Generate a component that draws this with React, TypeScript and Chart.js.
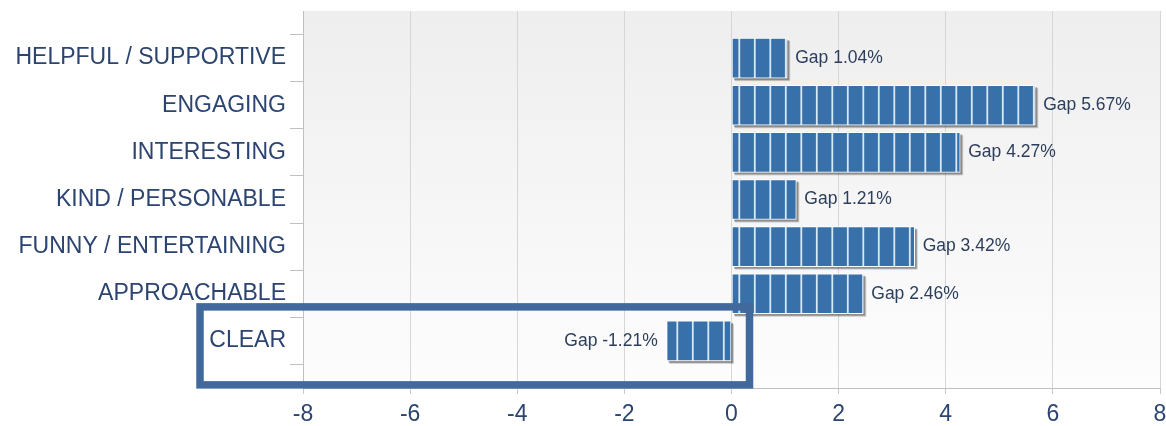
import React, { useEffect, useRef } from "react";
import { Chart, registerables } from "chart.js";

Chart.register(...registerables);

const categories = [
  "HELPFUL / SUPPORTIVE",
  "ENGAGING",
  "INTERESTING",
  "KIND / PERSONABLE",
  "FUNNY / ENTERTAINING",
  "APPROACHABLE",
  "CLEAR",
];
const gapValues = [1.04, 5.67, 4.27, 1.21, 3.42, 2.46, -1.21];
const xTicks = [-8, -6, -4, -2, 0, 2, 4, 6, 8];
const highlightCategory = "CLEAR";

const FONT = "'Liberation Sans', Arial, sans-serif";
const TEXT_COLOR = "#2b4470";
const BAR_COLOR = "#3870aa";

function makeStripePattern(): CanvasPattern | string {
  const c = document.createElement("canvas");
  c.width = 31;
  c.height = 4;
  const g = c.getContext("2d");
  if (!g) return BAR_COLOR;
  g.fillStyle = BAR_COLOR;
  g.fillRect(0, 0, 31, 4);
  g.fillStyle = "#d6e9f7";
  for (const cx of [10.8, 26.3]) {
    g.fillRect(cx - 0.9, 0, 1.8, 4);
  }
  const p = g.createPattern(c, "repeat");
  return p || BAR_COLOR;
}

function zeroPadding(scale: any) {
  scale.paddingTop = 0;
  scale.paddingBottom = 0;
  scale.paddingLeft = 0;
  scale.paddingRight = 0;
}

export default function App() {
  const ref = useRef<HTMLCanvasElement | null>(null);

  useEffect(() => {
    if (!ref.current) return;
    const labels = ["", ...categories, ""];
    const data = [null, ...gapValues, null];
    const pattern = makeStripePattern();

    const bgPlugin = {
      id: "bgPlugin",
      beforeDraw(chart: any) {
        const { ctx, chartArea: a } = chart;
        const grad = ctx.createLinearGradient(0, a.top, 0, a.bottom);
        grad.addColorStop(0, "#eeeeee");
        grad.addColorStop(1, "#fdfdfd");
        ctx.save();
        ctx.fillStyle = grad;
        ctx.fillRect(a.left, a.top, a.right - a.left, a.bottom - a.top);
        ctx.restore();
      },
    };

    const shadowPlugin = {
      id: "shadowPlugin",
      beforeDatasetsDraw(chart: any) {
        const { ctx } = chart;
        const meta = chart.getDatasetMeta(0);
        ctx.save();
        meta.data.forEach((el: any, i: number) => {
          if (data[i] == null) return;
          const left = Math.min(el.x, el.base);
          const w = Math.abs(el.x - el.base);
          const top = el.y - el.height / 2;
          ctx.fillStyle = "rgba(0,0,0,0.18)";
          ctx.fillRect(left + 3, top + 3, w, el.height);
          ctx.fillStyle = "rgba(0,0,0,0.3)";
          ctx.fillRect(left + 2, top + 2, w, el.height);
        });
        ctx.restore();
      },
    };

    const labelPlugin = {
      id: "labelPlugin",
      afterDatasetsDraw(chart: any) {
        const { ctx } = chart;
        const meta = chart.getDatasetMeta(0);
        ctx.save();
        ctx.font = `17.5px ${FONT}`;
        ctx.fillStyle = "#2c3e5c";
        ctx.textBaseline = "middle";
        meta.data.forEach((el: any, i: number) => {
          const v = data[i];
          if (v == null) return;
          const txt = `Gap ${v.toFixed(2)}%`;
          if (v >= 0) {
            ctx.textAlign = "left";
            ctx.fillText(txt, el.x + 8, el.y);
          } else {
            ctx.textAlign = "right";
            ctx.fillText(txt, el.x - 9, el.y);
          }
        });
        ctx.restore();
      },
    };

    const highlightPlugin = {
      id: "highlightPlugin",
      afterDraw(chart: any) {
        const { ctx } = chart;
        const y = chart.scales.y.getPixelForValue(labels.indexOf(highlightCategory));
        const x0 = chart.scales.x.getPixelForValue(0);
        ctx.save();
        ctx.strokeStyle = "#41699b";
        ctx.lineWidth = 7.5;
        ctx.strokeRect(200, y - 34, x0 + 18 - 200, 78);
        ctx.restore();
      },
    };

    const chart = new Chart(ref.current, {
      type: "bar",
      data: {
        labels,
        datasets: [
          {
            data,
            backgroundColor: pattern as any,
            borderColor: "#ffffff",
            borderWidth: 1,
            borderSkipped: false,
            barThickness: 40,
          },
        ],
      },
      plugins: [bgPlugin, shadowPlugin, labelPlugin, highlightPlugin],
      options: {
        indexAxis: "y",
        animation: false,
        responsive: false,
        maintainAspectRatio: false,
        layout: { padding: { top: 11, right: 6, left: 0, bottom: 0 } },
        plugins: { legend: { display: false }, tooltip: { enabled: false } },
        scales: {
          x: {
            type: "linear",
            min: -8,
            max: 8,
            afterBuildTicks(scale: any) {
              scale.ticks = xTicks.map((v) => ({ value: v }));
            },
            afterFit(scale: any) {
              scale.height = 38;
              zeroPadding(scale);
            },
            grid: {
              color: "#d6d6d6",
              tickLength: 6,
              tickColor: "#c8c8c8",
            },
            border: { color: "#c0c0c0" },
            ticks: {
              color: TEXT_COLOR,
              font: { family: FONT, size: 23 },
              padding: 7,
              maxRotation: 0,
            },
          },
          y: {
            type: "category",
            offset: false,
            afterFit(scale: any) {
              scale.width = 303;
              zeroPadding(scale);
            },
            grid: {
              drawOnChartArea: false,
              drawTicks: true,
              tickLength: 13,
              tickColor: "#c0c0c0",
            },
            border: { color: "#c0c0c0" },
            ticks: {
              color: TEXT_COLOR,
              font: { family: FONT, size: 23 },
              padding: 4,
              autoSkip: false,
            },
          },
        },
      },
    });
    return () => chart.destroy();
  }, []);

  return (
    <div style={{ position: "fixed", left: 0, top: 0, width: 1166, height: 426, background: "#ffffff" }}>
      <canvas ref={ref} width={1166} height={426} style={{ width: 1166, height: 426, display: "block" }} />
    </div>
  );
}
